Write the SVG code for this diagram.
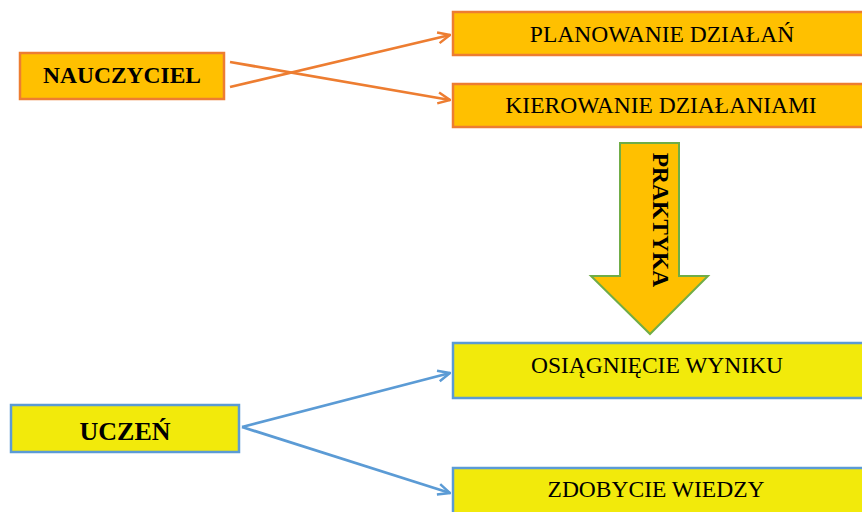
<svg xmlns="http://www.w3.org/2000/svg" width="862" height="512" viewBox="0 0 862 512">
<style>
text{font-family:"Liberation Serif","Times New Roman",serif;fill:#000;text-anchor:middle}
.t{font-size:23.5px}
.b{font-weight:bold}
.or{fill:#FFC000;stroke:#ED7D31;stroke-width:2.5}
.ye{fill:#F2EA0B;stroke:#5B9BD5;stroke-width:2.5}
.lo{stroke:#ED7D31;stroke-width:2.75;fill:none}
.lb{stroke:#5B9BD5;stroke-width:2.75;fill:none}
</style>
<defs>
<marker id="ao" viewBox="0 0 14 14" refX="13" refY="7" markerWidth="14" markerHeight="14" markerUnits="userSpaceOnUse" orient="auto"><path d="M1,1.5 L13,7 L1,12.5" fill="none" stroke="#ED7D31" stroke-width="2.5"/></marker>
<marker id="ab" viewBox="0 0 14 14" refX="13" refY="7" markerWidth="14" markerHeight="14" markerUnits="userSpaceOnUse" orient="auto"><path d="M1,1.5 L13,7 L1,12.5" fill="none" stroke="#5B9BD5" stroke-width="2.5"/></marker>
</defs>
<g id="connectors">
<line class="lo" x1="230" y1="62" x2="450" y2="100" marker-end="url(#ao)"/>
<line class="lo" x1="230" y1="87" x2="450" y2="35" marker-end="url(#ao)"/>
<line class="lb" x1="242" y1="427" x2="450" y2="373" marker-end="url(#ab)"/>
<line class="lb" x1="242" y1="427" x2="450" y2="493" marker-end="url(#ab)"/>
</g>
<g id="nauczyciel"><rect class="or" x="20" y="53" width="204" height="46"/><text class="t b" x="122" y="83">NAUCZYCIEL</text></g>
<g id="planowanie"><rect class="or" x="453" y="12" width="412" height="43"/><text class="t" x="662" y="42">PLANOWANIE DZIAŁAŃ</text></g>
<g id="kierowanie"><rect class="or" x="453" y="84" width="412" height="43"/><text class="t" x="661" y="113">KIEROWANIE DZIAŁANIAMI</text></g>
<g id="praktyka"><path d="M620,143 L679,143 L679,276 L708,276 L650,334 L591,276 L620,276 Z" fill="#FFC000" stroke="#70AD47" stroke-width="2"/><text class="t b" transform="translate(653,220) rotate(90)" x="0" y="0">PRAKTYKA</text></g>
<g id="osiagniecie"><rect class="ye" x="453" y="343" width="412" height="55"/><text class="t" x="657" y="373">OSIĄGNIĘCIE WYNIKU</text></g>
<g id="zdobycie"><rect class="ye" x="453" y="468" width="412" height="60"/><text class="t" x="656" y="497">ZDOBYCIE WIEDZY</text></g>
<g id="uczen"><rect class="ye" x="11" y="405" width="228" height="47"/><text class="b" style="font-size:26px" x="125" y="440">UCZEŃ</text></g>
</svg>
